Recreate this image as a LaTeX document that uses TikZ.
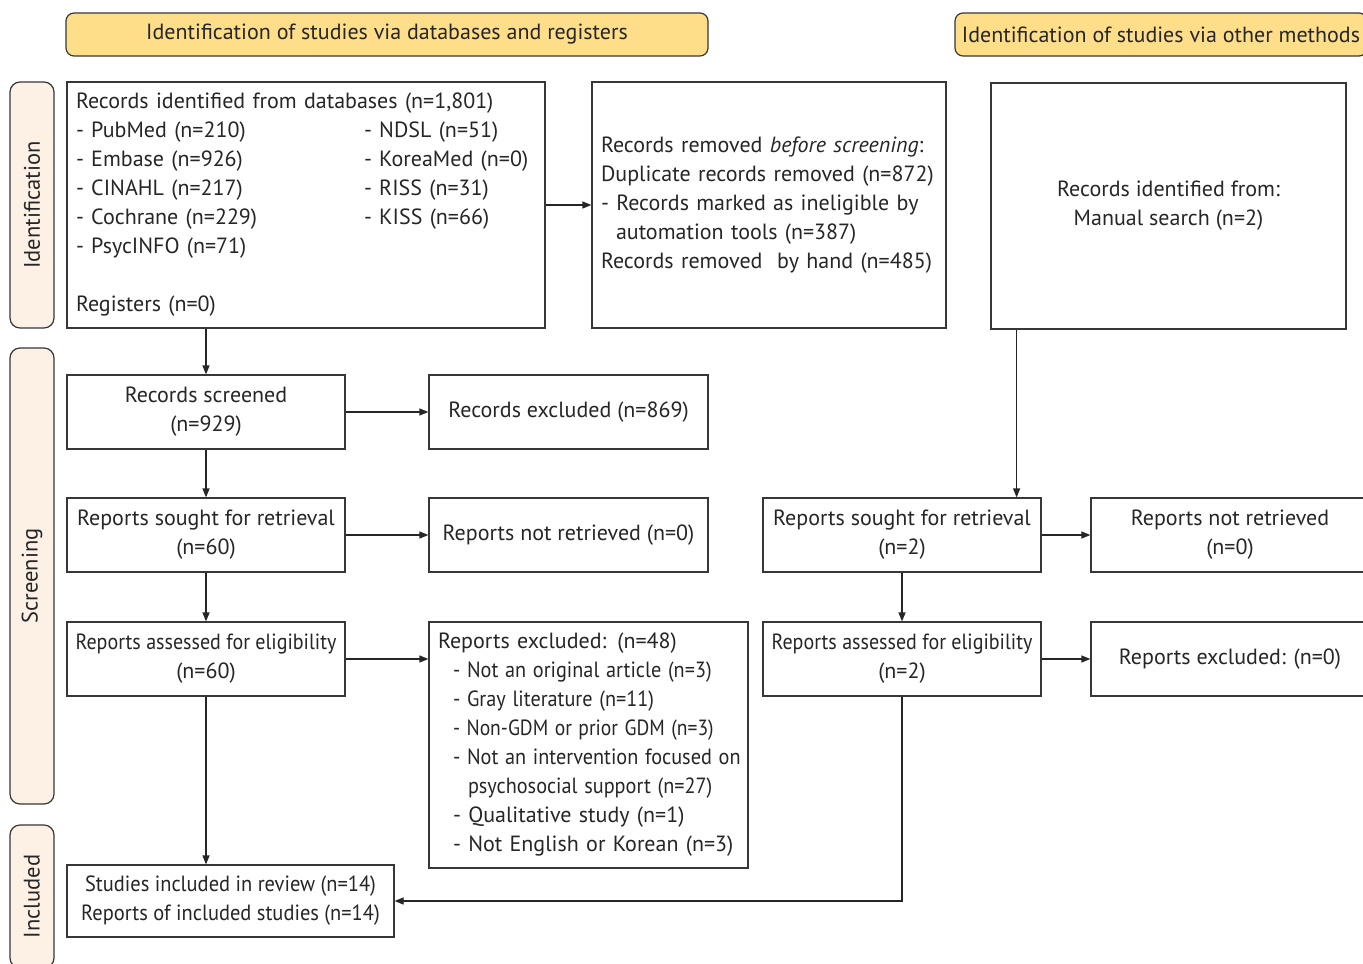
\documentclass[tikz,border=0pt]{standalone}
\usepackage{fontspec}
\usepackage{graphicx}
\setmainfont{PT Sans}
\usetikzlibrary{arrows.meta}
\definecolor{hdr}{RGB}{255,222,138}
\definecolor{side}{RGB}{253,240,229}
\definecolor{edge}{RGB}{55,55,55}
\newcommand\fsz{\fontsize{22}{29}\selectfont}
\newcommand\cond[2][0.92]{\scalebox{#1}[1]{#2}}
\tikzset{
  box/.style={draw=edge, line width=1.2pt, inner sep=0pt, align=center, font=\fsz, text=black!85},
  hdrbox/.style={box, fill=hdr, rounded corners=8pt},
  sidebox/.style={box, fill=side, rounded corners=10pt, rotate=90, minimum height=44pt, font=\fontsize{22.5}{29}\selectfont},
  arr/.style={draw=black!85, line width=1.2pt, -{Triangle[length=9pt,width=7pt]}}
}
\begin{document}
\begin{tikzpicture}[x=1pt,y=-1pt]
\clip (0,0) rectangle (1363,964);
\fill[white] (0,0) rectangle (1363,964);
% headers
\node[hdrbox, minimum width=642pt, minimum height=43pt] (h1) at (387,34.5) {Identification of studies via databases and registers};
\node[hdrbox, minimum width=412pt, minimum height=43pt] (h2) at (1161,34.5) {Identification of studies via other methods};
% side labels
\node[sidebox, minimum width=246pt] (sid) at (32,205) {Identification};
\node[sidebox, minimum width=456pt] (ssc) at (32,576) {Screening};
\node[sidebox, minimum width=143pt] (sin) at (32,896.5) {Included};
% identification
\node[box, minimum width=478pt, minimum height=246pt, text width=460pt, align=left] (db) at (306,205) {\mbox{Records identified from databases (n=1,801)}\\
\makebox[288pt][l]{- PubMed (n=210)}- NDSL (n=51)\\
\makebox[288pt][l]{- Embase (n=926)}- KoreaMed (n=0)\\
\makebox[288pt][l]{- CINAHL (n=217)}- RISS (n=31)\\
\makebox[288pt][l]{- Cochrane (n=229)}- KISS (n=66)\\
- PsycINFO (n=71)\\
\mbox{}\\
Registers (n=0)};
\node[box, minimum width=354pt, minimum height=246pt, text width=336pt, align=left] (rem) at (769,205) {\mbox{Records removed \textit{before screening}:}\\
\mbox{Duplicate records removed (n=872)}\\
\mbox{- Records marked as ineligible by}\\
\hspace*{15pt}\mbox{automation tools (n=387)}\\
\mbox{Records removed\ \ by hand (n=485)}};
\node[box, minimum width=355pt, minimum height=246pt] (oth) at (1168.5,206) {Records identified from:\\Manual search (n=2)};
% screening left
\node[box, minimum width=278pt, minimum height=74pt] (scr) at (206,412) {Records screened\\(n=929)};
\node[box, minimum width=279pt, minimum height=74pt] (exc) at (568.5,412) {Records excluded (n=869)};
\node[box, minimum width=278pt, minimum height=74pt] (sou) at (206,535) {Reports sought for retrieval\\(n=60)};
\node[box, minimum width=279pt, minimum height=74pt] (nr) at (568.5,535) {Reports not retrieved (n=0)};
\node[box, minimum width=278pt, minimum height=74pt] (ass) at (206,659) {\cond[0.91]{Reports assessed for eligibility}\\(n=60)};
\node[box, minimum width=319pt, minimum height=246pt, text width=301pt, align=left] (exl) at (588.5,745) {\mbox{Reports excluded: (n=48)}\\
\hspace*{15pt}\cond{- Not an original article (n=3)}\\
\hspace*{15pt}\cond{- Gray literature (n=11)}\\
\hspace*{15pt}\cond[0.89]{- Non-GDM or prior GDM (n=3)}\\
\hspace*{15pt}\cond{- Not an intervention focused on}\\
\hspace*{30pt}\cond{psychosocial support (n=27)}\\
\hspace*{15pt}\mbox{- Qualitative study (n=1)}\\
\hspace*{15pt}\mbox{- Not English or Korean (n=3)}};
% screening right
\node[box, minimum width=278pt, minimum height=74pt] (sou2) at (902,535) {Reports sought for retrieval\\(n=2)};
\node[box, minimum width=278pt, minimum height=74pt] (nr2) at (1230,535) {Reports not retrieved\\(n=0)};
\node[box, minimum width=278pt, minimum height=74pt] (ass2) at (902,659) {\cond[0.91]{Reports assessed for eligibility}\\(n=2)};
\node[box, minimum width=278pt, minimum height=74pt] (exc2) at (1230,659) {Reports excluded: (n=0)};
% included
\node[box, minimum width=327pt, minimum height=72pt] (inc) at (230.5,901) {\cond[0.93]{Studies included in review (n=14)}\\\cond[0.93]{Reports of included studies (n=14)}};
% arrows
\draw[arr] (db.south -| scr.north) -- (scr.north);
\draw[arr] (db.east) -- (rem.west);
\draw[arr] (scr.east) -- (exc.west);
\draw[arr] (scr.south) -- (sou.north);
\draw[arr] (sou.east) -- (nr.west);
\draw[arr] (sou.south) -- (ass.north);
\draw[arr] (ass.east) -- (ass.east -| exl.west);
\draw[arr] (ass.south) -- (ass.south |- inc.north);
\coordinate (c1) at ([xshift=-25pt]sou2.north east);
\draw[arr] (oth.south -| c1) -- (c1);
\draw[arr] (sou2.east) -- (nr2.west);
\draw[arr] (sou2.south) -- (ass2.north);
\draw[arr] (ass2.east) -- (exc2.west);
\draw[arr] (ass2.south) |- (inc.east);
\end{tikzpicture}
\end{document}
